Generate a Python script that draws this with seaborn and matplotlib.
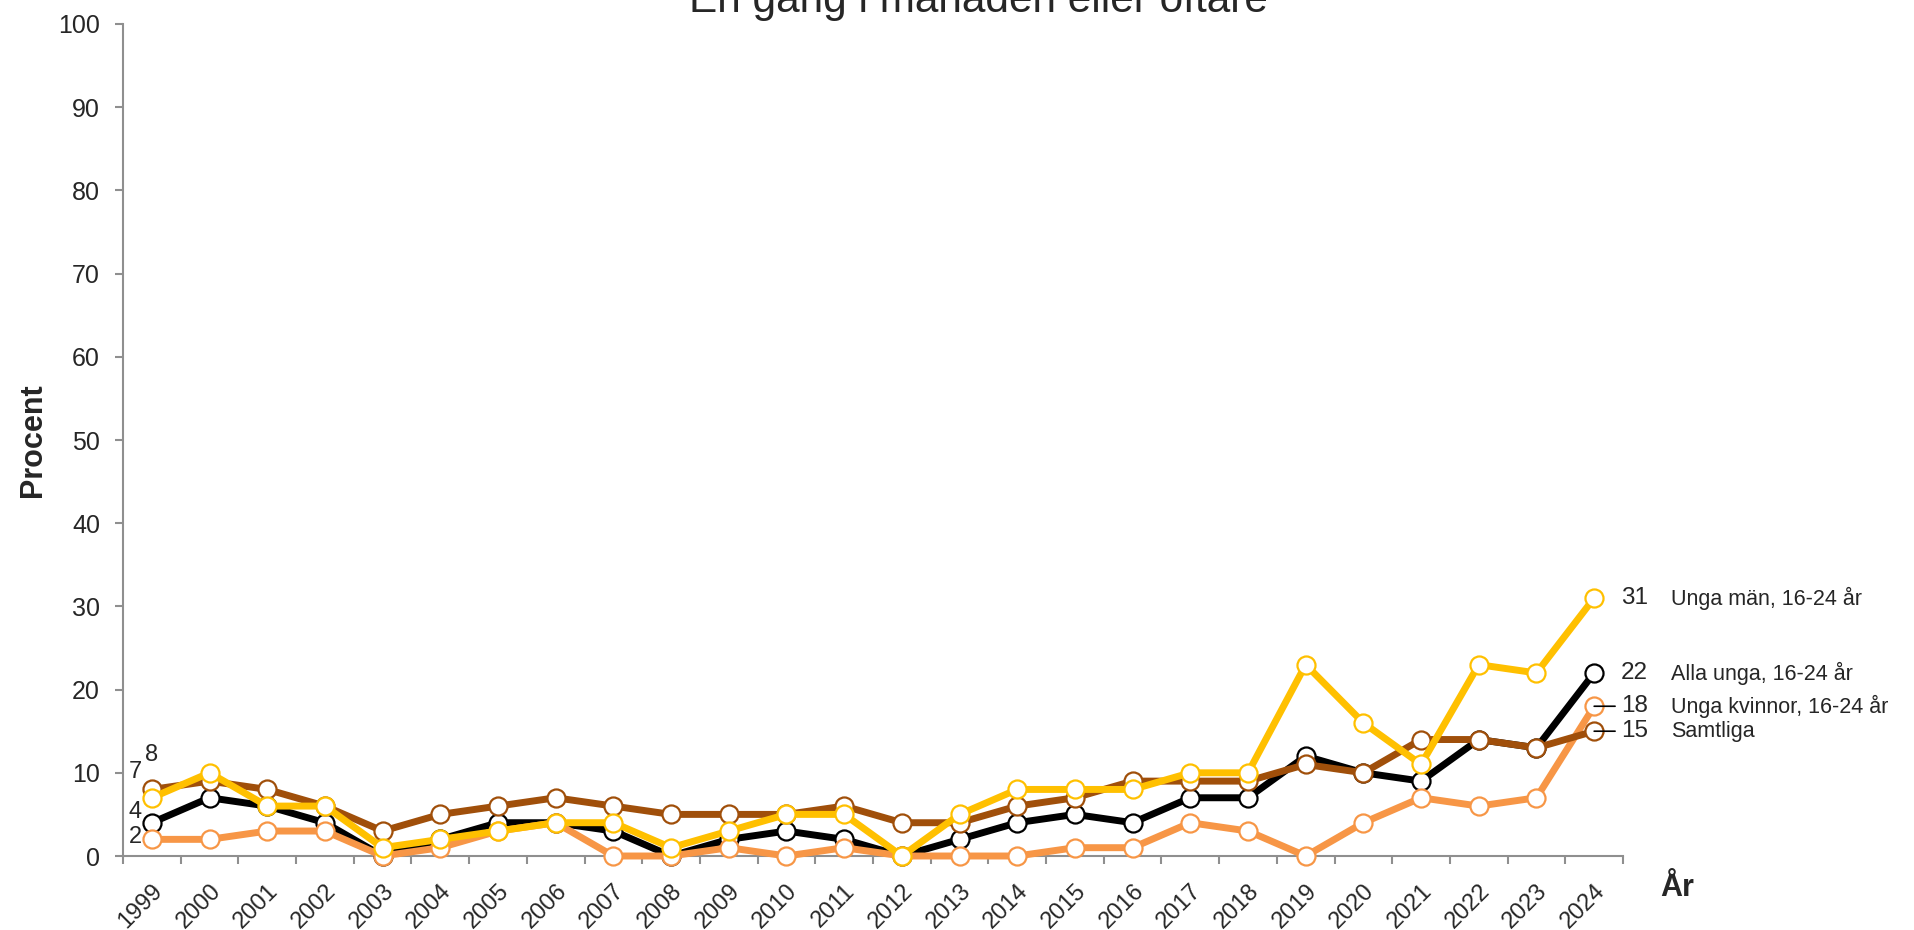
import matplotlib
matplotlib.use("Agg")
import matplotlib.pyplot as plt
import numpy as np
import pandas as pd
import seaborn as sns
from matplotlib.ticker import FixedLocator, MultipleLocator

# ---- data ----
years = list(range(1999, 2025))
samtliga = [8, 9, 8, 6, 3, 5, 6, 7, 6, 5, 5, 5, 6, 4, 4, 6, 7, 9, 9, 9, 11, 10, 14, 14, 13, 15]
alla_unga = [4, 7, 6, 4, 0, 2, 4, 4, 3, 0, 2, 3, 2, 0, 2, 4, 5, 4, 7, 7, 12, 10, 9, 14, 13, 22]
unga_man = [7, 10, 6, 6, 1, 2, 3, 4, 4, 1, 3, 5, 5, 0, 5, 8, 8, 8, 10, 10, 23, 16, 11, 23, 22, 31]
unga_kvinnor = [2, 2, 3, 3, 0, 1, 3, 4, 0, 0, 1, 0, 1, 0, 0, 0, 1, 1, 4, 3, 0, 4, 7, 6, 7, 18]

series_names = ["Alla unga, 16-24 år", "Unga kvinnor, 16-24 år", "Samtliga", "Unga män, 16-24 år"]
series_values = [alla_unga, unga_kvinnor, samtliga, unga_man]
series_colors = ["#000000", "#F79646", "#A04F0A", "#FFC000"]
# first-value label offsets (pixels) for 1999, and leader flags for end labels
first_offsets = [(-17, 11), (-16, 2), (0, 34), (-16, 26)]
leader = [False, True, True, False]

title = "En gång i månaden eller oftare"
ylabel = "Procent"
xlabel = "År"

sns.set_theme(style="white")
plt.rcParams["font.family"] = ["Liberation Sans", "DejaVu Sans"]

fig = plt.figure(figsize=(19.15, 9.3), dpi=100)
ax = fig.add_axes([123 / 1915, 1 - 856 / 930, 1500 / 1915, 832 / 930])

df = pd.DataFrame({"År": years})
for i, (name, vals, col) in enumerate(zip(series_names, series_values, series_colors)):
    df[name] = vals
    sns.lineplot(data=df, x="År", y=name, ax=ax, color=col, lw=5,
                 marker="o", markersize=13, markerfacecolor="white",
                 markeredgecolor=col, markeredgewidth=1.6, clip_on=False,
                 zorder=3 + i)

ax.set_xlim(years[0] - 0.5, years[-1] + 0.5)
ax.set_ylim(0, 100)

gray = "#8F8F8F"
for s in ["top", "right"]:
    ax.spines[s].set_visible(False)
for s in ["left", "bottom"]:
    ax.spines[s].set_color(gray)
    ax.spines[s].set_linewidth(1.5)
    ax.spines[s].set_zorder(2)

ax.yaxis.set_major_locator(MultipleLocator(10))
ax.tick_params(axis="y", which="major", direction="out", length=5.5, width=1.5,
               color=gray, labelsize=18, pad=11, left=True)
ax.xaxis.set_major_locator(FixedLocator(years))
ax.xaxis.set_minor_locator(FixedLocator([y - 0.5 for y in years] + [years[-1] + 0.5]))
ax.tick_params(axis="x", which="major", length=0, labelsize=17, pad=17)
ax.tick_params(axis="x", which="minor", direction="out", length=5.5, width=1.5,
               color=gray, bottom=True)
ax.set_xticklabels([str(y) for y in years])
plt.setp(ax.get_xticklabels(), rotation=45, ha="right", va="top", rotation_mode="anchor")

ax.set_xlabel("")
ax.set_ylabel(ylabel, fontsize=22, fontweight="bold")
ax.yaxis.set_label_coords(-0.05, 0.5)

fig.text(1677 / 1915, 1 - 888 / 930, xlabel, fontsize=22, fontweight="bold",
         ha="center", va="center")
fig.text(978 / 1915, 1 - 12 / 930, title, fontsize=30.5, ha="center", va="baseline")

for name, vals, off, lead in zip(series_names, series_values, first_offsets, leader):
    ax.annotate(str(vals[0]), xy=(years[0], vals[0]), xytext=off,
                textcoords="offset pixels", ha="center", va="center",
                fontsize=17, zorder=10, annotation_clip=False)
    ax.annotate(str(vals[-1]), xy=(years[-1], vals[-1]), xytext=(27, 0),
                textcoords="offset pixels", ha="left", va="center",
                fontsize=17.5, zorder=10, annotation_clip=False,
                arrowprops=dict(arrowstyle="-", color="black", lw=1.2,
                                shrinkA=2, shrinkB=0) if lead else None)
    ax.annotate(name, xy=(years[-1], vals[-1]), xytext=(77, 0),
                textcoords="offset pixels", ha="left", va="center",
                fontsize=15.5, zorder=10, annotation_clip=False)

fig.savefig("out.png", dpi=100)
